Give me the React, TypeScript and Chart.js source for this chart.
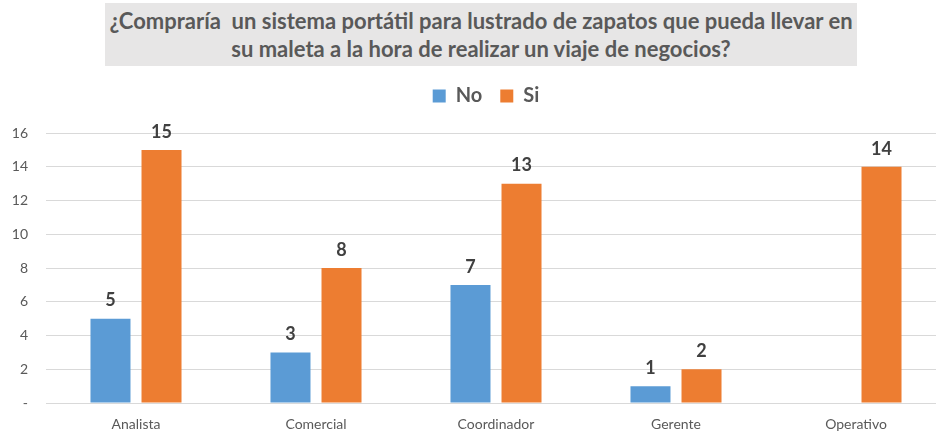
import React, { useEffect, useRef } from "react";
import { Chart, registerables } from "chart.js";

Chart.register(...registerables);

const titleLines = [
  "¿Compraría  un sistema portátil para lustrado de zapatos que pueda llevar en",
  "su maleta a la hora de realizar un viaje de negocios?",
];
const categories = ["Analista", "Comercial", "Coordinador", "Gerente", "Operativo"];
const seriesNames = ["No", "Si"];
const noValues = [5, 3, 7, 1, null];
const siValues = [15, 8, 13, 2, 14];
const yMin = 0;
const yMax = 16;
const yStep = 2;

const BLUE = "#5b9bd5";
const ORANGE = "#ed7d31";
const TEXT = "#595959";
const FONT = "Lato, 'Open Sans', sans-serif";

const valueLabels = {
  id: "valueLabels",
  afterDatasetsDraw(chart: any) {
    const ctx = chart.ctx;
    ctx.save();
    ctx.font = `bold 18px ${FONT}`;
    ctx.fillStyle = "#404040";
    ctx.textAlign = "center";
    ctx.textBaseline = "middle";
    chart.data.datasets.forEach((ds: any, i: number) => {
      const meta = chart.getDatasetMeta(i);
      meta.data.forEach((bar: any, j: number) => {
        const v = ds.data[j];
        if (v == null) return;
        ctx.fillText(String(v), bar.x, bar.y - 18);
      });
    });
    ctx.restore();
  },
};

export default function App() {
  const ref = useRef<HTMLCanvasElement>(null);
  useEffect(() => {
    if (!ref.current) return;
    const chart = new Chart(ref.current, {
      type: "bar",
      data: {
        labels: categories,
        datasets: [
          { label: seriesNames[0], data: noValues, backgroundColor: BLUE },
          { label: seriesNames[1], data: siValues, backgroundColor: ORANGE },
        ],
      },
      options: {
        responsive: false,
        animation: false,
        layout: { padding: { top: 8, left: 0, right: 0, bottom: 0 } },
        datasets: { bar: { categoryPercentage: 0.567, barPercentage: 0.784 } },
        plugins: {
          legend: {
            position: "top",
            labels: {
              boxWidth: 13,
              boxHeight: 13,
              padding: 18,
              color: TEXT,
              font: { family: FONT, size: 20, weight: "bold" },
            },
          },
          tooltip: { enabled: false },
          title: { display: false },
        },
        scales: {
          x: {
            grid: { display: false },
            border: { display: false },
            ticks: { color: TEXT, padding: 5, font: { family: FONT, size: 14 } },
            afterFit: (s: any) => {
              s.height = 29;
            },
          },
          xTop: {
            type: "linear",
            position: "top",
            grid: { display: false },
            border: { display: false },
            ticks: { display: false },
            afterFit: (s: any) => {
              s.height = 17;
            },
          },
          y: {
            min: yMin,
            max: yMax,
            grid: { color: "#d9d9d9", drawTicks: false, lineWidth: 1 },
            border: { display: false },
            ticks: {
              stepSize: yStep,
              padding: 18,
              color: TEXT,
              font: { family: FONT, size: 14 },
              callback: (v: any) => (v === 0 ? "-" : String(v)),
            },
            afterFit: (s: any) => {
              s.width = 46;
            },
          },
          yR: {
            type: "linear",
            position: "right",
            grid: { display: false },
            border: { display: false },
            ticks: { display: false },
            afterFit: (s: any) => {
              s.width = 26;
            },
          },
        },
      } as any,
      plugins: [valueLabels],
    });
    return () => chart.destroy();
  }, []);

  return (
    <div
      style={{
        position: "absolute",
        left: 0,
        top: 0,
        width: 936,
        height: 432,
        overflow: "hidden",
        background: "#ffffff",
      }}
    >
      <div
        style={{
          position: "absolute",
          left: 105,
          top: 3,
          width: 752,
          height: 63,
          background: "#e7e6e6",
          color: TEXT,
          fontFamily: "Lato, 'Open Sans', sans-serif",
          fontWeight: "bold",
          fontSize: 22,
          lineHeight: "28px",
          textAlign: "center",
          display: "flex",
          flexDirection: "column",
          justifyContent: "center",
          alignItems: "center",
          whiteSpace: "pre",
        }}
      >
        {titleLines.map((t, i) => (
          <div key={i}>{t}</div>
        ))}
      </div>
      <canvas
        ref={ref}
        width={972}
        height={372}
        style={{ position: "absolute", left: 0, top: 60, width: 972, height: 372 }}
      />
    </div>
  );
}
